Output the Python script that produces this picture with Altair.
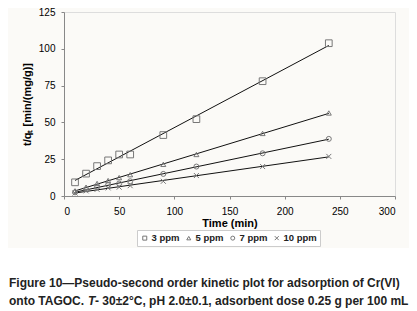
import altair as alt
import pandas as pd

time = [10, 20, 30, 40, 50, 60, 90, 120, 180, 240]
series_names = ["3 ppm", "5 ppm", "7 ppm", "10 ppm"]
v3 = [9.3, 15.2, 20.3, 24.2, 28.2, 28.2, 41.4, 52.2, 78.0, 103.8]
v5 = [3.5, 6.0, 8.5, 10.5, 12.5, 14.5, 21.5, 28.2, 42.5, 56.4]
v7 = [2.5, 4.5, 6.0, 7.5, 8.5, 10.0, 15.0, 20.0, 29.0, 38.8]
v10 = [2.0, 3.5, 4.5, 5.5, 6.0, 7.0, 10.0, 13.9, 20.0, 26.9]
caption1 = "Figure 10\u2014Pseudo-second order kinetic plot for adsorption of Cr(VI)"
caption2 = ["onto TAGOC. ", "T", "- 30\u00b12\u00b0C, pH 2.0\u00b10.1, adsorbent dose 0.25 g per 100 mL"]

rows = []
for name, vals in zip(series_names, [v3, v5, v7, v10]):
    for t, v in zip(time, vals):
        rows.append({"t": t, "v": v, "series": name})
df = pd.DataFrame(rows)

FONT = "Liberation Sans"
TOP = 4
W, H = 331, 184
CAP = 12

shape_scale = alt.Scale(
    domain=series_names,
    range=["square", "triangle-up", "circle", "M-1,-1L1,1M1,-1L-1,1"],
)

xenc = alt.X("t:Q", scale=alt.Scale(domain=[0, 300]),
             axis=alt.Axis(values=[0, 50, 100, 150, 200, 250, 300], title="Time (min)",
                           grid=False, tickSize=3, labelPadding=7, titlePadding=1,
                           labelOverlap=False))
yenc = alt.Y("v:Q", scale=alt.Scale(domain=[0, 125]),
             axis=alt.Axis(values=[0, 25, 50, 75, 100, 125], title="t/q\u209c [min/(mg/g)]",
                           grid=False, tickSize=3, labelPadding=6, titlePadding=6,
                           labelOverlap=False))

# white band under the caption (chart background is light grey)
wb = alt.Chart(pd.DataFrame({"a": [0]})).mark_rect(fill="white").encode(
    x=alt.value(-70), x2=alt.value(350), y=alt.value(240 - TOP), y2=alt.value(330)
)

points = alt.Chart(df).mark_point(filled=False, stroke="#777", strokeWidth=1, opacity=1).encode(
    x=xenc, y=yenc,
    shape=alt.Shape("series:N", scale=shape_scale, sort=series_names,
                    legend=alt.Legend(title=None, orient="none", direction="horizontal",
                                      legendX=73, legendY=222 - TOP,
                                      strokeColor="#cccccc", fillColor="white", padding=3,
                                      symbolSize=16, symbolStrokeColor="#777", symbolStrokeWidth=1,
                                      symbolFillColor="transparent",
                                      labelFont=FONT, labelFontSize=9.5, labelFontWeight="bold",
                                      labelColor="#222", columnPadding=4, symbolOffset=0,
                                      labelOffset=2)),
    size=alt.condition(alt.datum.series == "3 ppm", alt.value(45), alt.value(25)),
)

lines = alt.Chart(df).transform_regression("t", "v", groupby=["series"]).mark_line(
    color="#111", strokeWidth=1
).encode(x=xenc, y=yenc, detail="series:N")

def cap_text(txt, x, y, italic=False):
    kw = dict(align="left", baseline="middle", font=FONT, fontSize=CAP,
              fontWeight="bold", color="#222")
    if italic:
        kw["fontStyle"] = "italic"
    return alt.Chart(pd.DataFrame({"txt": [txt]})).mark_text(**kw).encode(
        x=alt.value(x), y=alt.value(y), text="txt:N")

cap1 = cap_text(caption1, -55, 275 - TOP)
cap_a = cap_text(caption2[0], -55, 293 - TOP)
cap_b = cap_text(caption2[1], 24, 293 - TOP, italic=True)
cap_c = cap_text(caption2[2], 31, 293 - TOP)

chart = alt.layer(wb, lines, points, cap1, cap_a, cap_b, cap_c).properties(
    width=W, height=H,
    autosize=alt.AutoSizeParams(type="none"),
    padding={"left": 56, "top": TOP, "right": 14, "bottom": 120},
).configure_view(stroke="#888", strokeWidth=1).configure_axis(
    domainColor="#888", tickColor="#888", labelColor="#333", titleColor="#333",
    labelFont=FONT, titleFont=FONT, labelFontSize=10, titleFontSize=10,
    labelFontWeight="bold", titleFontWeight="bold",
).configure(background="#fbfaf7")

chart.save("out.html", embed_options={"renderer": "svg", "actions": False})
